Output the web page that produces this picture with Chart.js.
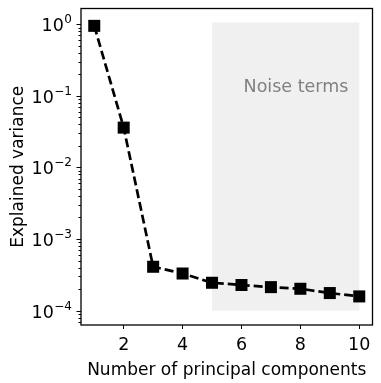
<!DOCTYPE html>
<html lang="en">
<head>
<meta charset="UTF-8">
<title>Explained variance</title>
<script src="https://cdn.jsdelivr.net/npm/chart.js"></script>
<style>
    body { margin: 0; background: white; }
    .chart-box { width: 381px; height: 383px; }
</style>
</head>
<body>
<div class="chart-box"><canvas id="pcaChart"></canvas></div>
<script>
// data
const components = [1, 2, 3, 4, 5, 6, 7, 8, 9, 10];
const variance = [0.95, 0.036, 0.00041, 0.00033, 0.000245, 0.000228, 0.000213, 0.000202, 0.000176, 0.000158];
const xTicks = [2, 4, 6, 8, 10];
const yTicks = [1e-4, 1e-3, 1e-2, 1e-1, 1];
const yTickExponents = ['\u22124', '\u22123', '\u22122', '\u22121', '0'];
const noiseRange = { xFrom: 5, xTo: 10, yFrom: 1e-4, yTo: 1.06 };
const noiseLabel = { text: 'Noise terms', x: 7.85, y: 0.13 };

const font = 'DejaVu Sans';

function noPadding(s) {
    s.paddingTop = 0; s.paddingBottom = 0; s.paddingLeft = 0; s.paddingRight = 0;
}

// shaded region, frame, y tick labels (10^n) and minor log ticks
const extras = {
    id: 'extras',
    beforeDatasetsDraw(chart) {
        const { ctx, scales: { x, y } } = chart;
        const x0 = x.getPixelForValue(noiseRange.xFrom), x1 = x.getPixelForValue(noiseRange.xTo);
        const y0 = y.getPixelForValue(noiseRange.yTo), y1 = y.getPixelForValue(noiseRange.yFrom);
        ctx.save();
        ctx.fillStyle = '#f0f0f0';
        ctx.fillRect(x0, y0, x1 - x0, y1 - y0);
        ctx.fillStyle = '#808080';
        ctx.font = '17.5px "' + font + '"';
        ctx.textAlign = 'center';
        ctx.textBaseline = 'middle';
        ctx.fillText(noiseLabel.text, x.getPixelForValue(noiseLabel.x), y.getPixelForValue(noiseLabel.y));
        ctx.restore();
    },
    afterDraw(chart) {
        const { ctx, chartArea: a, scales: { y } } = chart;
        ctx.save();
        ctx.strokeStyle = '#000';
        ctx.fillStyle = '#000';
        ctx.lineWidth = 1;
        for (let e = -5; e <= 0; e++) {
            for (let m = 2; m <= 9; m++) {
                const v = m * Math.pow(10, e);
                if (v < y.min || v > y.max) continue;
                const py = Math.round(y.getPixelForValue(v)) + 0.5;
                ctx.beginPath();
                ctx.moveTo(a.left - 2.5, py);
                ctx.lineTo(a.left, py);
                ctx.stroke();
            }
        }
        // major ticks and labels
        ctx.textAlign = 'right';
        ctx.textBaseline = 'alphabetic';
        yTicks.forEach((v, i) => {
            const py = Math.round(y.getPixelForValue(v)) + 0.5;
            ctx.beginPath();
            ctx.moveTo(a.left - 4.5, py);
            ctx.lineTo(a.left, py);
            ctx.stroke();
            const right = a.left - 9;
            ctx.font = '12px "' + font + '"';
            const ew = ctx.measureText(yTickExponents[i]).width;
            ctx.fillText(yTickExponents[i], right, py - 2);
            ctx.font = '17.5px "' + font + '"';
            ctx.fillText('10', right - ew - 0.5, py + 6);
        });
        ctx.lineWidth = 1.3;
        ctx.strokeRect(a.left, a.top, a.right - a.left, a.bottom - a.top);
        ctx.restore();
    }
};

new Chart(document.getElementById('pcaChart'), {
    type: 'line',
    data: {
        datasets: [{
            data: components.map((c, i) => ({ x: c, y: variance[i] })),
            borderColor: '#000',
            borderWidth: 2.7,
            borderDash: [9, 4],
            backgroundColor: '#000',
            pointStyle: 'rect',
            pointRadius: 8.5,
            pointHoverRadius: 8.5,
            pointBorderWidth: 0,
            tension: 0,
            clip: false
        }]
    },
    plugins: [extras],
    options: {
        responsive: true,
        maintainAspectRatio: false,
        animation: false,
        events: [],
        layout: { padding: { top: 1, right: 1, left: 0, bottom: 0 } },
        plugins: { legend: { display: false }, tooltip: { enabled: false } },
        scales: {
            x: {
                type: 'linear',
                min: 0.55,
                max: 10.45,
                afterBuildTicks: s => { s.ticks = xTicks.map(v => ({ value: v })); },
                afterFit: s => { s.height = 58; noPadding(s); },
                grid: { drawOnChartArea: false, tickLength: 4, tickColor: '#000', tickWidth: 1 },
                border: { display: false },
                ticks: { color: '#000', padding: 6, font: { family: font, size: 17.5 } },
                title: {
                    display: true,
                    text: 'Number of principal components',
                    color: '#000',
                    padding: { top: 0, bottom: 2 },
                    font: { family: font, size: 17 }
                }
            },
            y: {
                type: 'logarithmic',
                min: 6.3e-5,
                max: 1.66,
                afterBuildTicks: s => { s.ticks = yTicks.map(v => ({ value: v })); },
                afterFit: s => { s.width = 81; noPadding(s); },
                grid: { display: false },
                border: { display: false },
                ticks: { display: false },
                title: {
                    display: true,
                    text: 'Explained variance',
                    color: '#000',
                    padding: { top: 8, bottom: 0 },
                    font: { family: font, size: 17 }
                }
            }
        }
    }
});
</script>
</body>
</html>
